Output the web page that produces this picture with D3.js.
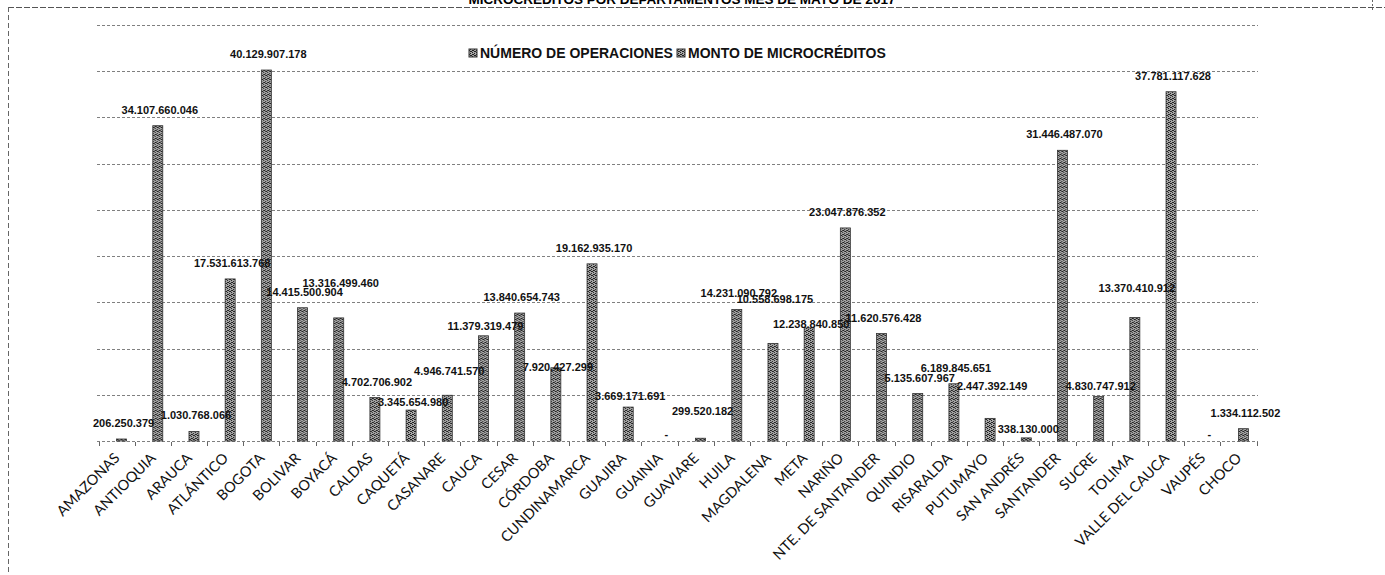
<!DOCTYPE html>
<html>
<head>
<meta charset="utf-8">
<script src="https://cdn.jsdelivr.net/npm/d3@7"></script>
<style>
  body { margin: 0; background: #fff; }
  svg { display: block; }
</style>
</head>
<body>
<svg width="1385" height="575"></svg>
<script>
// Datos
const categorias = ['AMAZONAS', 'ANTIOQUIA', 'ARAUCA', 'ATLÁNTICO', 'BOGOTA', 'BOLIVAR', 'BOYACÁ', 'CALDAS',
  'CAQUETÁ', 'CASANARE', 'CAUCA', 'CESAR', 'CÓRDOBA', 'CUNDINAMARCA', 'GUAJIRA', 'GUAINIA', 'GUAVIARE',
  'HUILA', 'MAGDALENA', 'META', 'NARIÑO', 'NTE. DE SANTANDER', 'QUINDIO', 'RISARALDA', 'PUTUMAYO',
  'SAN ANDRÉS', 'SANTANDER', 'SUCRE', 'TOLIMA', 'VALLE DEL CAUCA', 'VAUPÉS', 'CHOCO'];

const montoMicrocreditos = [206250379, 34107660046, 1030768066, 17531613768, 40129907178, 14415500904,
  13316499460, 4702706902, 3345654980, 4946741570, 11379319479, 13840654743, 7920427299, 19162935170,
  3669171691, 0, 299520182, 14231090792, 10558698175, 12238840850, 23047876352, 11620576428,
  5135607967, 6189845651, 2447392149, 338130000, 31446487070, 4830747912, 13370410912, 37781117628,
  0, 1334112502];

// el número de operaciones no se distingue a esta escala (≈0)
const numeroOperaciones = [0, 0, 0, 0, 0, 0, 0, 0, 0, 0, 0, 0, 0, 0, 0, 0, 0, 0, 0, 0, 0, 0, 0, 0, 0, 0, 0, 0, 0, 0, 0, 0];

const series = ['NÚMERO DE OPERACIONES', 'MONTO DE MICROCRÉDITOS'];
const yTicks = [0, 5e9, 10e9, 15e9, 20e9, 25e9, 30e9, 35e9, 40e9, 45e9];

// ajustes manuales de las etiquetas (como en la hoja original)
const ajusteEtiqueta = {
  'BOYACÁ': -19, 'CAQUETÁ': 8, 'CASANARE': -8, 'CAUCA': 6, 'CÓRDOBA': 15, 'GUAJIRA': 5,
  'GUAVIARE': -11, 'MAGDALENA': -28, 'META': 12, 'PUTUMAYO': -16, 'SAN ANDRÉS': 7, 'SUCRE': 6, 'TOLIMA': -13,
  'GUAINIA': 9, 'VAUPÉS': 9
};

const svg = d3.select('svg');
// formato contable: miles con punto, cero como guion
const fmt = v => v === 0 ? '-' : d3.format(',')(v).replace(/,/g, '.');

// patrón de relleno punteado (aspecto de la impresión escaneada)
const defs = svg.append('defs');
const pat = defs.append('pattern')
  .attr('id', 'trama')
  .attr('width', 4).attr('height', 4)
  .attr('patternUnits', 'userSpaceOnUse');
pat.append('rect').attr('width', 4).attr('height', 4).attr('fill', '#a6a6a6');
[[0, 0], [2, 1], [1, 2], [3, 3], [2, 3], [0, 2]].forEach(p => {
  pat.append('rect').attr('x', p[0]).attr('y', p[1]).attr('width', 1).attr('height', 1).attr('fill', '#222');
});

// marco de la página
svg.append('line').attr('x1', 8).attr('x2', 1385).attr('y1', 7.5).attr('y2', 7.5)
  .attr('stroke', '#555').attr('stroke-dasharray', '6,2');
svg.append('line').attr('x1', 8.5).attr('x2', 8.5).attr('y1', 7).attr('y2', 575)
  .attr('stroke', '#666').attr('stroke-dasharray', '5,3');
svg.append('line').attr('x1', 1372.5).attr('x2', 1372.5).attr('y1', 0).attr('y2', 12)
  .attr('stroke', '#666').attr('stroke-dasharray', '2,2');

// título (cortado en el borde superior)
svg.append('text')
  .attr('x', 682).attr('y', 4)
  .attr('text-anchor', 'middle')
  .attr('font-family', 'Liberation Sans, Arial, sans-serif')
  .attr('font-weight', 'bold')
  .attr('font-size', 13.5)
  .text('MICROCRÉDITOS POR DEPARTAMENTOS MES DE MAYO DE 2017');

// escalas
const x = d3.scaleBand().domain(categorias).range([98.5, 1256.5]);
const xs = d3.scaleBand().domain(series)
  .range([x.bandwidth() / 2 - 10, x.bandwidth() / 2 + 10]);
const y = d3.scaleLinear().domain([0, 45e9]).range([441, 25]);

// líneas de división
svg.append('g')
  .selectAll('line')
  .data(yTicks)
  .join('line')
  .attr('x1', 97).attr('x2', 1258)
  .attr('y1', d => Math.round(y(d)) + 0.5)
  .attr('y2', d => Math.round(y(d)) + 0.5)
  .attr('stroke', '#808080')
  .attr('stroke-dasharray', '3,2');

// marcas del eje x
svg.append('g')
  .selectAll('line')
  .data(categorias.concat(['fin']))
  .join('line')
  .attr('x1', (d, i) => Math.round(x.range()[0] + i * x.step()) + 0.5)
  .attr('x2', (d, i) => Math.round(x.range()[0] + i * x.step()) + 0.5)
  .attr('y1', 442).attr('y2', 446)
  .attr('stroke', '#666');

// barras
const filas = categorias.map((c, i) => ({ cat: c, valores: [numeroOperaciones[i], montoMicrocreditos[i]] }));
const grupos = svg.append('g')
  .selectAll('g')
  .data(filas)
  .join('g')
  .attr('transform', d => `translate(${x(d.cat)},0)`);

grupos.selectAll('rect')
  .data(d => d.valores.map((v, j) => ({ serie: series[j], v: v })).filter(e => e.v > 0))
  .join('rect')
  .attr('x', d => xs(d.serie))
  .attr('width', xs.bandwidth())
  .attr('y', d => Math.min(y(d.v), 439))
  .attr('height', d => Math.max(441 - y(d.v), 2))
  .attr('fill', 'url(#trama)')
  .attr('stroke', '#333')
  .attr('stroke-width', 0.8);

// etiquetas de datos
svg.append('g')
  .selectAll('text')
  .data(categorias.map((c, i) => ({ cat: c, v: montoMicrocreditos[i] })))
  .join('text')
  .attr('x', d => x(d.cat) + xs(series[1]) + xs.bandwidth() / 2 + 2)
  .attr('y', d => y(d.v) - 12 + (ajusteEtiqueta[d.cat] || 0))
  .attr('text-anchor', 'middle')
  .attr('font-family', 'Liberation Sans, Arial, sans-serif')
  .attr('font-weight', 'bold')
  .attr('font-size', 11)
  .attr('fill', '#111')
  .text(d => fmt(d.v));

// etiquetas de categorías rotadas
svg.append('g')
  .selectAll('text')
  .data(categorias)
  .join('text')
  .attr('transform', d => `translate(${x(d) + x.bandwidth() / 2 + 4},459) rotate(-45)`)
  .attr('text-anchor', 'end')
  .attr('font-family', 'Lato, Calibri, sans-serif')
  .attr('font-size', 14.5)
  .attr('fill', '#111')
  .text(d => d);

// leyenda
const leyenda = svg.append('g');
const posLeyenda = [469, 677];
series.forEach((s, i) => {
  leyenda.append('rect')
    .attr('x', posLeyenda[i]).attr('y', 49)
    .attr('width', 8).attr('height', 8)
    .attr('fill', 'url(#trama)')
    .attr('stroke', '#333');
  leyenda.append('text')
    .attr('x', posLeyenda[i] + 11).attr('y', 58)
    .attr('font-family', 'Liberation Sans, Arial, sans-serif')
    .attr('font-weight', 'bold')
    .attr('font-size', 14)
    .attr('fill', '#111')
    .text(s);
});
</script>
</body>
</html>
